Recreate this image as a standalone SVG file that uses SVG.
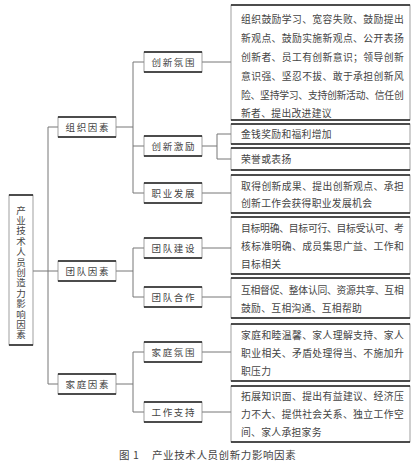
<svg xmlns="http://www.w3.org/2000/svg" width="420" height="465" viewBox="0 0 420 465">
<style>
.bx{fill:#fff;stroke:#888;stroke-width:0.8}
.tb{stroke:#222;stroke-width:1.3}
.lb{font-family:"Noto Sans CJK SC",sans-serif;font-size:9.5px;fill:#444;letter-spacing:1.6px;text-anchor:middle;dominant-baseline:central}
.tx{font-family:"Noto Sans CJK SC",sans-serif;font-size:9.8px;fill:#444;letter-spacing:0.3px;dominant-baseline:central}
.rt{font-family:"Noto Sans CJK SC",sans-serif;font-size:9.5px;fill:#444;writing-mode:vertical-rl;letter-spacing:0.9px}
.cn{fill:none;stroke:#777;stroke-width:1}
.cap{font-family:"Noto Sans CJK SC",sans-serif;font-size:10.5px;fill:#444;letter-spacing:0.6px}
</style>
<rect width="420" height="465" fill="#fff"/>
<g id="connectors">
<path class="cn" d="M33 271H48M48 127V384M48 127H58M48 271H58M48 384H58"/>
<path class="cn" d="M116 127H133M133 62V193M133 62H144M133 146H144M133 193H144"/>
<path class="cn" d="M202 62H231M202 146H217M217 134V159M217 134H231M217 159H231M202 193H231"/>
<path class="cn" d="M116 271H133M133 248V297M133 248H144M133 297H144M202 248H231M202 297H231"/>
<path class="cn" d="M116 384H133M133 352V412M133 352H144M133 412H144M202 352H231M202 412H231"/>
</g>
<g id="root">
<rect class="bx" x="9" y="195" width="24" height="150"/><path class="tb" d="M9 195H33M9 345H33"/>
<text class="rt" x="21" y="205.3">产业技术人员创造力影响因素</text>
</g>
<g id="n_org"><rect class="bx" x="58" y="117" width="58" height="20"/><path class="tb" d="M58 117H116M58 137H116"/><text class="lb" x="87.8" y="127">组织因素</text></g>
<g id="n_team"><rect class="bx" x="58" y="261" width="58" height="20"/><path class="tb" d="M58 261H116M58 281H116"/><text class="lb" x="87.8" y="271">团队因素</text></g>
<g id="n_family"><rect class="bx" x="58" y="374" width="58" height="20"/><path class="tb" d="M58 374H116M58 394H116"/><text class="lb" x="87.8" y="384">家庭因素</text></g>
<g id="n_atm"><rect class="bx" x="144" y="52" width="58" height="20"/><path class="tb" d="M144 52H202M144 72H202"/><text class="lb" x="173.8" y="62">创新氛围</text></g>
<g id="n_inc"><rect class="bx" x="144" y="136" width="58" height="20"/><path class="tb" d="M144 136H202M144 156H202"/><text class="lb" x="173.8" y="146">创新激励</text></g>
<g id="n_car"><rect class="bx" x="144" y="183" width="58" height="20"/><path class="tb" d="M144 183H202M144 203H202"/><text class="lb" x="173.8" y="193">职业发展</text></g>
<g id="n_tb"><rect class="bx" x="144" y="238" width="58" height="20"/><path class="tb" d="M144 238H202M144 258H202"/><text class="lb" x="173.8" y="248">团队建设</text></g>
<g id="n_tc"><rect class="bx" x="144" y="287" width="58" height="20"/><path class="tb" d="M144 287H202M144 307H202"/><text class="lb" x="173.8" y="297">团队合作</text></g>
<g id="n_fa"><rect class="bx" x="144" y="342" width="58" height="20"/><path class="tb" d="M144 342H202M144 362H202"/><text class="lb" x="173.8" y="352">家庭氛围</text></g>
<g id="n_ws"><rect class="bx" x="144" y="402" width="58" height="20"/><path class="tb" d="M144 402H202M144 422H202"/><text class="lb" x="173.8" y="412">工作支持</text></g>
<g id="d_atm"><rect class="bx" x="231" y="5" width="179" height="115"/><path class="tb" d="M231 5H410M231 120H410"/>
<text class="tx" x="241" y="19" textLength="163" lengthAdjust="spacing">组织鼓励学习、宽容失败、鼓励提出</text>
<text class="tx" x="241" y="38" textLength="163" lengthAdjust="spacing">新观点、鼓励实施新观点、公开表扬</text>
<text class="tx" x="241" y="57" textLength="163" lengthAdjust="spacing">创新者、员工有创新意识；领导创新</text>
<text class="tx" x="241" y="76" textLength="163" lengthAdjust="spacing">意识强、坚忍不拔、敢于承担创新风</text>
<text class="tx" x="241" y="95" textLength="163" lengthAdjust="spacing">险、坚持学习、支持创新活动、信任创</text>
<text class="tx" x="241" y="113">新者、提出改进建议</text></g>
<g id="d_money"><rect class="bx" x="231" y="124" width="179" height="20"/><path class="tb" d="M231 124H410M231 144H410"/><text class="tx" x="241" y="134">金钱奖励和福利增加</text></g>
<g id="d_honor"><rect class="bx" x="231" y="148" width="179" height="22"/><path class="tb" d="M231 148H410M231 170H410"/><text class="tx" x="241" y="159">荣誉或表扬</text></g>
<g id="d_car"><rect class="bx" x="231" y="175" width="179" height="38"/><path class="tb" d="M231 175H410M231 213H410"/>
<text class="tx" x="241" y="186" textLength="163" lengthAdjust="spacing">取得创新成果、提出创新观点、承担</text>
<text class="tx" x="241" y="203">创新工作会获得职业发展机会</text></g>
<g id="d_tb"><rect class="bx" x="231" y="217" width="179" height="57"/><path class="tb" d="M231 217H410M231 274H410"/>
<text class="tx" x="241" y="228" textLength="163" lengthAdjust="spacing">目标明确、目标可行、目标受认可、考</text>
<text class="tx" x="241" y="246" textLength="163" lengthAdjust="spacing">核标准明确、成员集思广益、工作和</text>
<text class="tx" x="241" y="264">目标相关</text></g>
<g id="d_tc"><rect class="bx" x="231" y="278" width="179" height="40"/><path class="tb" d="M231 278H410M231 318H410"/>
<text class="tx" x="241" y="290" textLength="163" lengthAdjust="spacing">互相督促、整体认同、资源共享、互相</text>
<text class="tx" x="241" y="308">鼓励、互相沟通、互相帮助</text></g>
<g id="d_fa"><rect class="bx" x="231" y="324" width="179" height="57"/><path class="tb" d="M231 324H410M231 381H410"/>
<text class="tx" x="241" y="335" textLength="163" lengthAdjust="spacing">家庭和睦温馨、家人理解支持、家人</text>
<text class="tx" x="241" y="353" textLength="163" lengthAdjust="spacing">职业相关、矛盾处理得当、不施加升</text>
<text class="tx" x="241" y="371">职压力</text></g>
<g id="d_ws"><rect class="bx" x="231" y="386" width="179" height="56"/><path class="tb" d="M231 386H410M231 442H410"/>
<text class="tx" x="241" y="396" textLength="163" lengthAdjust="spacing">拓展知识面、提出有益建议、经济压</text>
<text class="tx" x="241" y="414" textLength="163" lengthAdjust="spacing">力不大、提供社会关系、独立工作空</text>
<text class="tx" x="241" y="432">间、家人承担家务</text></g>
<text class="cap" x="119" y="459">图 1<tspan x="152">产业技术人员创新力影响因素</tspan></text>
</svg>
